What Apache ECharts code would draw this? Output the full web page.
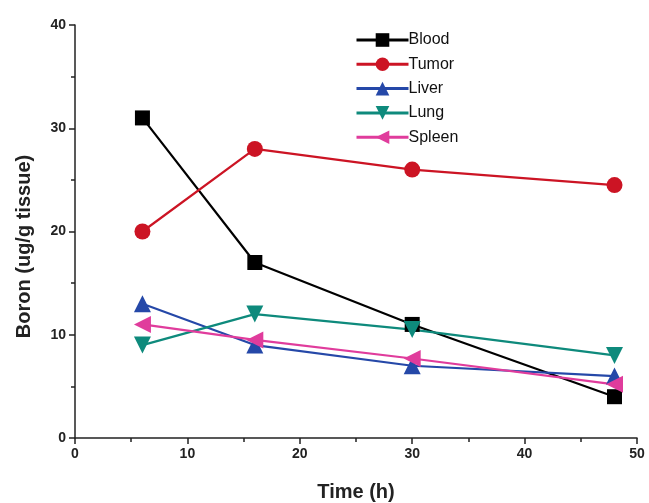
<!DOCTYPE html>
<html>
<head>
<meta charset="utf-8">
<script src="https://cdn.jsdelivr.net/npm/echarts@6/dist/echarts.min.js"></script>
<style>
  html, body { margin: 0; padding: 0; background: #fff; }
  #main { width: 649px; height: 503px; }
</style>
</head>
<body>
<div id="main"></div>
<script>
var times = [6, 16, 30, 48];
var blood = [31, 17, 11, 4];
var tumor = [20, 28, 26, 24.5];
var liver = [13, 9, 7, 6];
var lung = [9, 12, 10.5, 8];
var spleen = [11, 9.5, 7.7, 5.2];

function pairs(vals) {
    return times.map(function (t, i) { return [t, vals[i]]; });
}

function mkSeries(name, vals, color, symbol, rot, size) {
    return {
        name: name,
        type: 'line',
        data: pairs(vals),
        symbol: symbol,
        symbolRotate: rot,
        symbolSize: size,
        lineStyle: { color: color, width: 2.2 },
        itemStyle: { color: color },
        emphasis: { disabled: true },
        z: 2
    };
}

var font = 'Liberation Sans, Arial, sans-serif';
var chart = echarts.init(document.getElementById('main'));
var option = {
    animation: false,
    backgroundColor: '#fff',
    grid: { left: 75, right: 12, top: 25, bottom: 65, outerBoundsMode: 'none' },
    legend: {
        orient: 'vertical',
        left: 350,
        top: 27,
        itemWidth: 52,
        itemHeight: 17,
        itemGap: 8.3,
        lineStyle: { width: 3 },
        textStyle: { fontFamily: font, fontSize: 16, color: '#111', padding: [0, 0, 0, -5] },
        data: ['Blood', 'Tumor', 'Liver', 'Lung', 'Spleen']
    },
    xAxis: {
        type: 'value',
        min: 0, max: 50, interval: 10,
        name: 'Time (h)',
        nameLocation: 'middle',
        nameGap: 44,
        nameTextStyle: { fontFamily: font, fontSize: 20, fontWeight: 'bold', color: '#222' },
        axisLine: { lineStyle: { color: '#222', width: 1.5 } },
        axisTick: { length: 6, lineStyle: { color: '#222', width: 1.5 } },
        minorTick: { show: true, splitNumber: 2, length: 4, lineStyle: { color: '#222', width: 1.5 } },
        axisLabel: { fontFamily: font, fontSize: 14, fontWeight: 'bold', color: '#222', margin: 9 },
        splitLine: { show: false }
    },
    yAxis: {
        type: 'value',
        min: 0, max: 40, interval: 10,
        name: 'Boron (ug/g tissue)',
        nameLocation: 'middle',
        nameGap: 41,
        nameTextStyle: { fontFamily: font, fontSize: 20, fontWeight: 'bold', color: '#222', padding: [0, 0, 0, -30] },
        axisLine: { show: true, lineStyle: { color: '#222', width: 1.5 } },
        axisTick: { show: true, length: 6, lineStyle: { color: '#222', width: 1.5 } },
        minorTick: { show: true, splitNumber: 2, length: 4, lineStyle: { color: '#222', width: 1.5 } },
        axisLabel: { fontFamily: font, fontSize: 14, fontWeight: 'bold', color: '#222', margin: 9 },
        splitLine: { show: false }
    },
    series: [
        mkSeries('Blood', blood, '#000000', 'rect', 0, 15),
        mkSeries('Tumor', tumor, '#cc1424', 'circle', 0, 16),
        mkSeries('Liver', liver, '#2548a8', 'triangle', 0, 17),
        mkSeries('Lung', lung, '#0e8a7c', 'triangle', 180, 17),
        mkSeries('Spleen', spleen, '#e03c9c', 'triangle', 90, 17)
    ]
};
chart.setOption(option);
</script>
</body>
</html>
